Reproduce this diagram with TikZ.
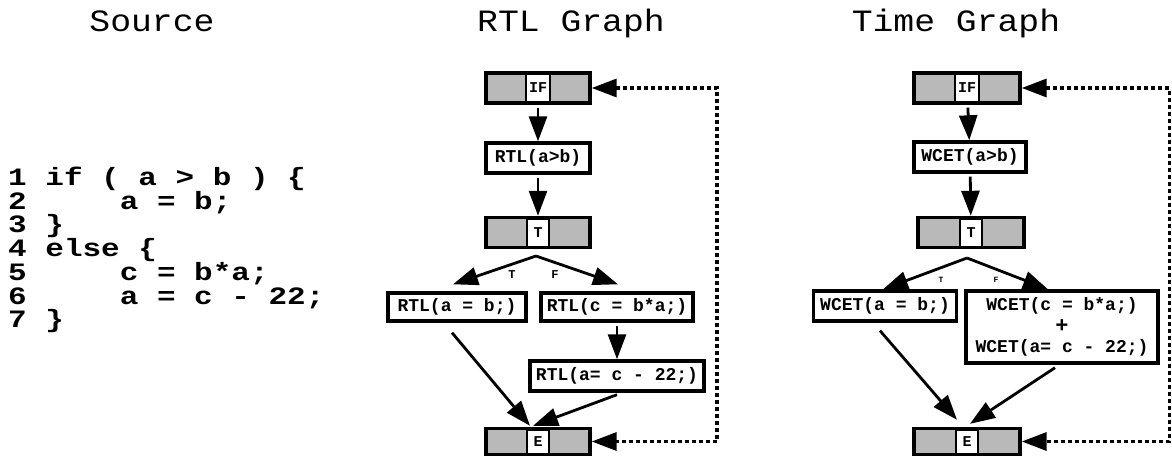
\documentclass[tikz,border=0pt]{standalone}
\usepackage{fontspec}
\setmonofont{Liberation Mono}
\newfontfamily\titlemono{Liberation Mono}[FakeStretch=1.12]
\newfontfamily\codemono{Liberation Mono}[FakeStretch=1.24]
\usetikzlibrary{positioning,arrows.meta}

\begin{document}
\begin{tikzpicture}[
    x=1pt, y=-1pt,
    title/.style={
        anchor=base,
        inner sep=0pt,
        font=\fontsize{31}{31}\selectfont\titlemono
    },
    code/.style={
        anchor=west,
        align=left,
        inner sep=0pt,
        font=\fontsize{25}{23.7}\selectfont\codemono\bfseries\frenchspacing
    },
    box/.style={
        draw,
        line width=3.4pt,
        fill=white,
        inner sep=0pt,
        minimum height=30pt,
        align=center,
        font=\fontsize{18}{18}\selectfont\ttfamily\bfseries\frenchspacing
    },
    blk/.style={
        draw,
        line width=3.4pt,
        fill=gray!55,
        minimum width=104pt,
        minimum height=30pt,
        inner sep=0pt
    },
    tag/.style={
        draw,
        line width=2pt,
        fill=white,
        minimum width=22pt,
        minimum height=28pt,
        inner xsep=3pt,
        font=\fontsize{15}{15}\selectfont\ttfamily\bfseries
    },
    lbl/.style={
        inner sep=0pt,
        font=\fontsize{12}{12}\selectfont\ttfamily\bfseries
    },
    arrow/.style={
        -{Triangle[length=25pt,width=18pt]},
        line width=2.8pt
    },
    back/.style={
        {Triangle[length=25pt,width=18pt]}-{Triangle[length=25pt,width=18pt]},
        line width=3.4pt,
        dash pattern=on 4pt off 3pt
    }
]
\useasboundingbox (0,0) rectangle (1172,457);

% titles
\node[title] (srcT) at (152,32) {Source};
\node[title] (rtlT) at (571,32) {RTL Graph};
\node[title] (timeT) at (956,32) {Time Graph};

% source code
\node[code] (src) at (8,250) {1 if ( a > b ) \{\\2~~~~~a = b;\\3 \}\\4 else \{\\5~~~~~c = b*a;\\6~~~~~a = c - 22;\\7 \}};

% RTL graph
\node[blk] (ifR) at (538,88) {};
\node[tag] (ifRt) at (ifR) {IF};
\node[box, minimum width=104pt, minimum height=30pt] (condR) at (538,158) {RTL(a>b)};
\node[blk] (tR) at (538,232.5) {};
\node[tag] (tRt) at (tR) {T};
\coordinate (brR) at (536,256);
\node[box, minimum width=138pt, minimum height=28pt] (thenR) at (457,307) {RTL(a = b;)};
\node[box, minimum width=152pt, minimum height=28pt] (else1R) at (617,307) {RTL(c = b*a;)};
\node[box, minimum width=174pt] (else2R) at (617,376) {RTL(a= c - 22;)};
\node[blk, minimum height=26pt] (eR) at (538,441.5) {};
\node[tag, minimum height=24pt] (eRt) at (eR) {E};
\node[lbl] (tLblR) at (512,275) {T};
\node[lbl] (fLblR) at (555,275) {F};
\coordinate (fbR) at (717,0);

\draw[arrow, shorten <=3pt] (ifR) -- (condR);
\draw[arrow, shorten <=3pt] (condR) -- (tR);
\draw[arrow] (brR) -- ([xshift=-4pt,yshift=7pt]thenR.north);
\draw[arrow] (brR) -- ([xshift=1pt,yshift=7pt]else1R.north);
\draw[arrow, shorten <=3pt] (else1R) -- (else2R);
\draw[arrow] ([xshift=-5pt,yshift=-10pt]thenR.south) -- ([xshift=-8pt,yshift=1pt]eR.north);
\draw[arrow] ([yshift=-2pt]else2R.south) -- ([xshift=-5pt,yshift=1pt]eR.north);
\draw[back] (ifR.east) -- (ifR.east -| fbR) -- (eR.east -| fbR) -- (eR.east);

% Time graph
\node[blk, minimum width=106pt] (ifW) at (967,88) {};
\node[tag] (ifWt) at (ifW) {IF};
\node[box, minimum width=112pt, minimum height=30pt] (condW) at (970,157) {WCET(a>b)};
\node[blk, minimum width=106pt] (tW) at (971,232.5) {};
\node[tag] (tWt) at (tW) {T};
\coordinate (brW) at (967,258);
\node[box, minimum width=143pt] (thenW) at (885,306) {WCET(a = b;)};
\node[box, minimum width=192pt, minimum height=72pt] (elseW) at (1062,327) {WCET(c = b*a;)\\[4pt]{\fontsize{22}{10}\selectfont +}\\[2pt]WCET(a= c - 22;)};
\node[blk, minimum width=106pt, minimum height=26pt] (eW) at (967,441.5) {};
\node[tag, minimum height=24pt] (eWt) at (eW) {E};
\node[lbl, font=\fontsize{8}{8}\selectfont\ttfamily\bfseries] (tLblW) at (941,280) {T};
\node[lbl, font=\fontsize{8}{8}\selectfont\ttfamily\bfseries] (fLblW) at (996,280) {F};
\coordinate (fbW) at (1169.3,0);

\draw[arrow, shorten <=3pt] (ifW) -- (condW);
\draw[arrow, shorten <=3pt] (condW) -- (tW);
\draw[arrow] (brW) -- ([xshift=-2pt]thenW.north);
\draw[arrow] (brW) -- ([xshift=-14pt]elseW.north);
\draw[arrow] ([xshift=-5pt,yshift=-8pt]thenW.south) -- ([xshift=-10pt,yshift=7pt]eW.north);
\draw[arrow] ([xshift=-7pt,yshift=-3pt]elseW.south) -- ([xshift=3pt,yshift=3pt]eW.north);
\draw[back] (ifW.east) -- (ifW.east -| fbW) -- (eW.east -| fbW) -- (eW.east);

\end{tikzpicture}
\end{document}
